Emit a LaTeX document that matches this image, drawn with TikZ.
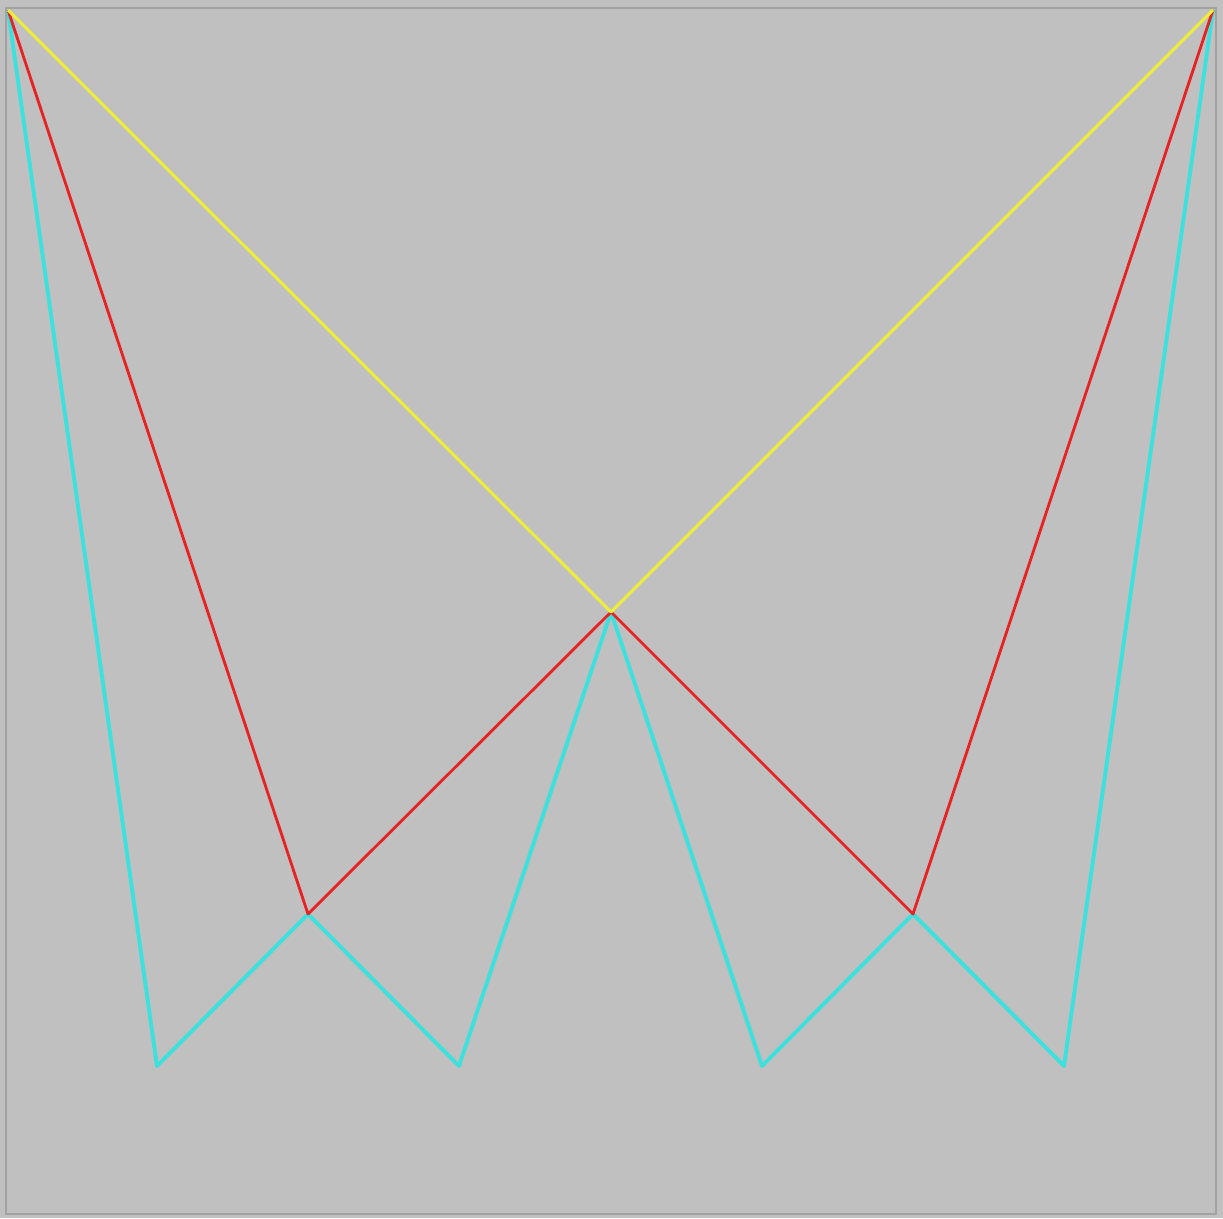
\documentclass[tikz,border=0pt]{standalone}
\usepackage{tikz}
\usetikzlibrary{positioning,calc}

\definecolor{bggrey}{HTML}{C0C0C0}
\definecolor{framegrey}{HTML}{A2A2A2}
\definecolor{yline}{HTML}{EEEE3A}
\definecolor{rline}{HTML}{E62222}
\definecolor{cline}{HTML}{3CE0DC}

\begin{document}
\begin{tikzpicture}[x=0.02cm, y=-0.02cm,
    yedge/.style={draw=yline, line width=1.7pt, line join=round},
    redge/.style={draw=rline, line width=1.6pt, line join=round},
    cedge/.style={draw=cline, line width=2.2pt, line join=round}]
    \fill[bggrey] (0,0) rectangle (1223,1218);
    \useasboundingbox (0,0) rectangle (1223,1218);
    \draw[framegrey, line width=1.5pt] (6,8) rectangle (1216,1214);

    % corner and joint points
    \coordinate (tl) at (8,10);
    \coordinate (tr) at (1213,10);
    \coordinate (c) at (611,612);
    \coordinate (ml) at (308,914);
    \coordinate (mr) at (913,914);
    \coordinate (b1) at (157,1066);
    \coordinate (b2) at (459,1066);
    \coordinate (b3) at (762,1066);
    \coordinate (b4) at (1064,1066);

    % cyan zigzag
    \draw[cedge] (tl) -- (b1) -- (ml) -- (b2) -- (c) -- (b3) -- (mr) -- (b4) -- (tr);
    % red level
    \draw[redge] (tl) -- (ml) -- (c) -- (mr) -- (tr);
    % yellow level
    \draw[yedge] (tl) -- (c) -- (tr);
\end{tikzpicture}
\end{document}
